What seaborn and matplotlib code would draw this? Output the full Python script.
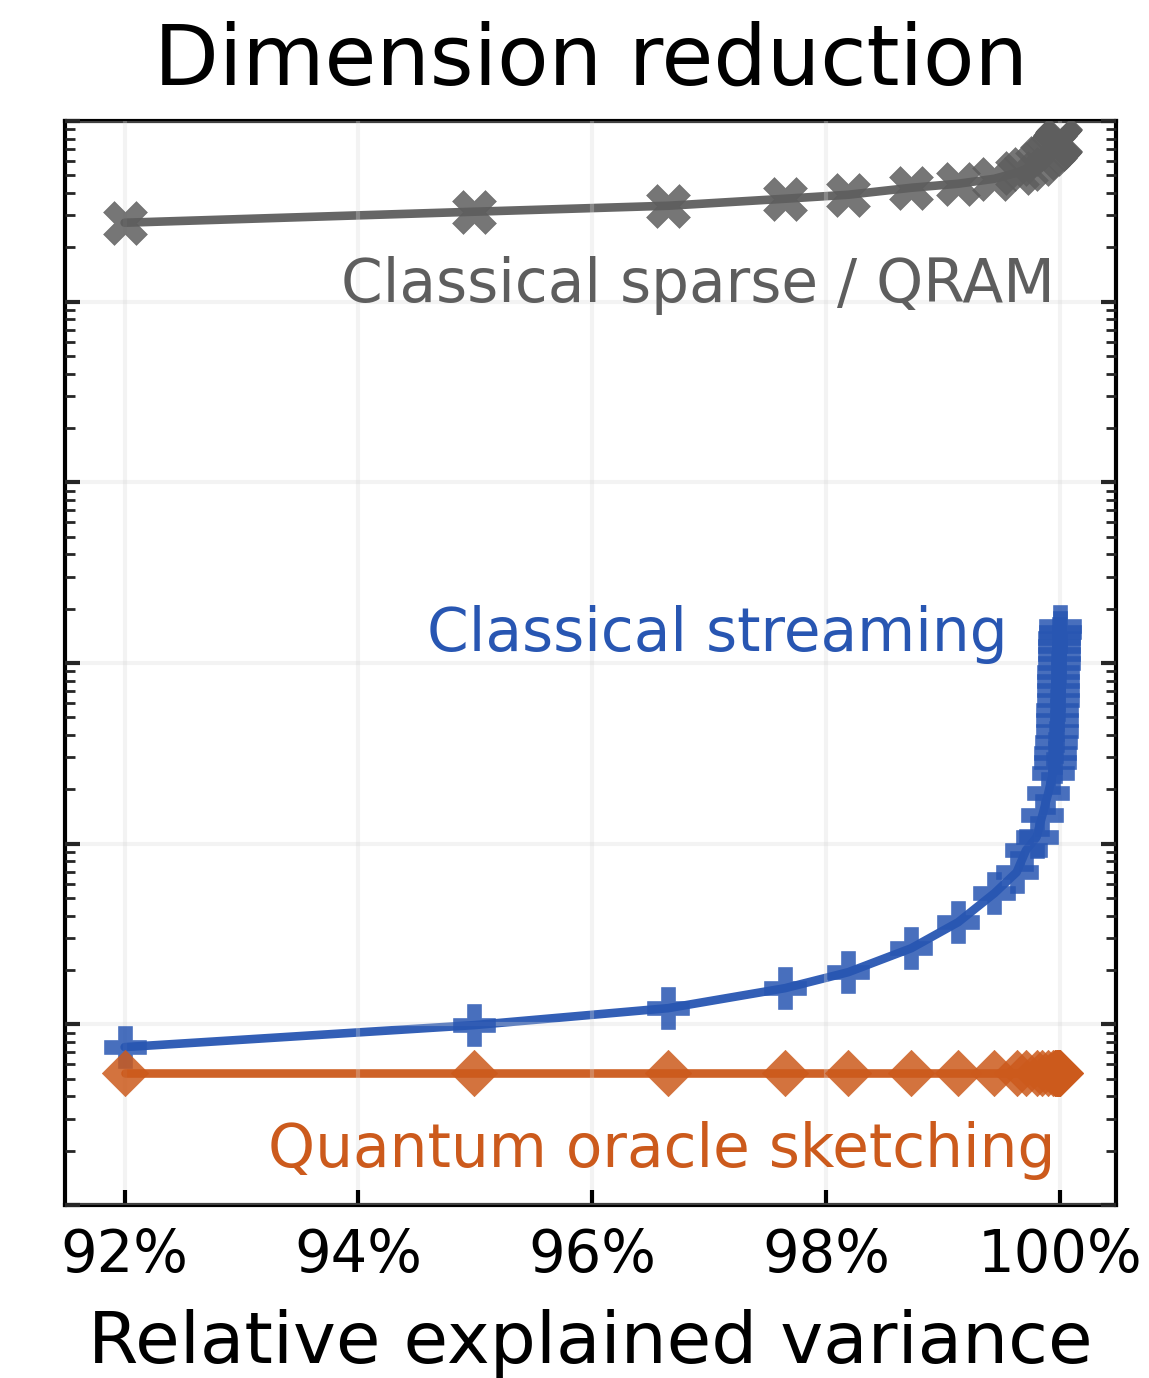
import matplotlib
matplotlib.use("Agg")
import matplotlib.pyplot as plt
import numpy as np
import pandas as pd
import seaborn as sns
from matplotlib.ticker import LogLocator, NullFormatter, FixedLocator, FuncFormatter

# ---- data ----
explained = [92.0, 94.99, 96.65, 97.65, 98.19, 98.73, 99.13, 99.44, 99.63, 99.71,
             99.80, 99.85, 99.90, 99.94, 99.955, 99.962, 99.968, 99.972, 99.976, 99.979,
             99.982, 99.984, 99.986, 99.988, 99.990, 99.992, 99.994, 99.996, 99.998, 100.0]

sparse_qram = [273500, 314700, 339600, 371300, 390700, 427100, 449500, 479000, 517000, 543900,
               579800, 626000, 660000, 700000, 715000, 725000, 735000, 742000, 748000, 753000,
               757000, 761000, 764000, 767000, 770000, 772000, 774000, 776000, 778000, 780000]

streaming = [7.48, 9.90, 12.29, 15.86, 19.44, 26.40, 36.76, 53.18, 69.47, 91.9,
             108.5, 143.6, 190.0, 245.2, 282, 316, 364, 418, 481, 547,
             621, 706, 791, 887, 995, 1116, 1236, 1368, 1476, 1594]

quantum = [5.37] * len(explained)

x_ticks = [92, 94, 96, 98, 100]

series = [
    ("Classical sparse / QRAM", sparse_qram, "#5e5e5e", "X"),
    ("Classical streaming", streaming, "#2856b2", "P"),
    ("Quantum oracle sketching", quantum, "#cc5a1c", "D"),
]
marker_sizes = {"X": 1000, "P": 900, "D": 560}

sns.set_theme(style="white")
plt.rcParams["font.family"] = ["DejaVu Sans"]

fig = plt.figure(figsize=(11.49, 13.78), dpi=100)
ax = fig.add_axes([65 / 1149, 1 - 1205 / 1378, (1116 - 65) / 1149, (1205 - 121) / 1378])

for name, vals, color, marker in series:
    df = pd.DataFrame({"x": explained, "y": vals})
    sns.lineplot(data=df, x="x", y="y", ax=ax, color=color, linewidth=6.2,
                 estimator=None, sort=False, alpha=0.95, zorder=2)
    sns.scatterplot(data=df, x="x", y="y", ax=ax, color=color, marker=marker,
                    s=marker_sizes[marker], alpha=0.85, edgecolor=color,
                    linewidth=0.4, zorder=3)

ax.set_yscale("log")
ax.set_ylim(1, 1e6)
ax.set_xlim(91.49, 100.48)

ax.xaxis.set_major_locator(FixedLocator(x_ticks))
ax.xaxis.set_major_formatter(FuncFormatter(lambda v, p: f"{v:.0f}%"))
ax.yaxis.set_major_locator(LogLocator(base=10, numticks=20))
ax.yaxis.set_minor_locator(LogLocator(base=10, subs=np.arange(2, 10), numticks=20))
ax.yaxis.set_major_formatter(NullFormatter())
ax.yaxis.set_minor_formatter(NullFormatter())

ax.grid(True, which="major", color="#d8d8d8", alpha=0.3, linewidth=3)
ax.set_axisbelow(False)

for sp in ax.spines.values():
    sp.set_visible(True)
    sp.set_color("black")
    sp.set_linewidth(3)

ax.tick_params(axis="x", which="major", direction="in", length=11, width=3,
               labelsize=41.5, pad=16, top=False, bottom=True, colors="black")
ax.tick_params(axis="y", which="major", direction="in", length=11, width=3,
               left=True, right=True, labelleft=False)
ax.tick_params(axis="y", which="minor", direction="in", length=7, width=2,
               left=True, right=True)

ax.set_xlabel("Relative explained variance", fontsize=52.2, labelpad=18, color="black")
ax.set_ylabel("")
ax.set_title("Dimension reduction", fontsize=60.7, pad=26, color="black")

ax.text(0.942, (1205 - 302) / 1084, "Classical sparse / QRAM", transform=ax.transAxes,
        ha="right", va="baseline", fontsize=43, color="#5e5e5e")
ax.text(0.897, (1205 - 651) / 1084, "Classical streaming", transform=ax.transAxes,
        ha="right", va="baseline", fontsize=43, color="#2856b2")
ax.text(0.942, (1205 - 1167) / 1084, "Quantum oracle sketching", transform=ax.transAxes,
        ha="right", va="baseline", fontsize=43, color="#cc5a1c")

if ax.get_legend() is not None:
    ax.get_legend().remove()

fig.savefig("out.png", dpi=100)
